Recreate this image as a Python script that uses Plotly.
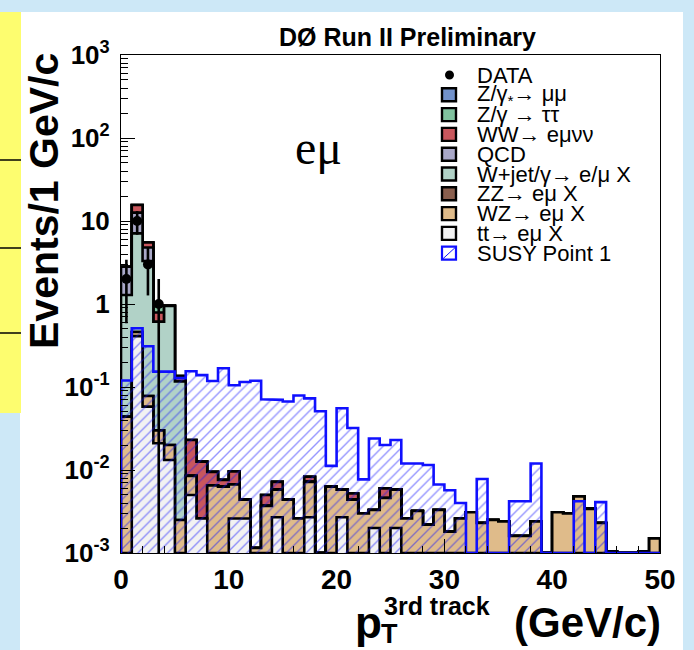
import numpy as np
import plotly.graph_objects as go

# ---------------- data (events per 1 GeV/c bin, 0-50 GeV/c) ----------------
bin_edges = list(range(0, 51))

data_counts = [2, 10, 3, 1] + [0] * 46

tt_emu = [0, 0.41, 0.058, 0.021, 0.0132, 0, 0.005, 0.0026, 0, 0,
          0.0026, 0.0026, 0, 0, 0.0027, 0, 0, 0.0027, 0, 0,
          0.0027, 0, 0, 0.002, 0, 0.002, 0, 0, 0, 0,
          0, 0, 0, 0, 0, 0, 0, 0, 0, 0,
          0, 0, 0, 0, 0, 0, 0, 0, 0, 0]
wz_emu = [0.044, 0.05, 0.02, 0.009, 0.0068, 0.0025, 0.0035, 0, 0.0065, 0.0063,
          0.0041, 0.0018, 0.00115, 0.0037, 0.0031, 0.0044, 0.0026, 0.0045, 0, 0.0063,
          0.0031, 0.0044, 0.0030, 0.0013, 0.0046, 0.0038, 0.0026, 0.0032, 0.0022, 0.0033,
          0.0018, 0.0026, 0.0031, 0.0023, 0.0025, 0.0024, 0.0016, 0.0016, 0.0024, 0,
          0.0031, 0.0030, 0.0048, 0.0034, 0.0023, 0.00105, 0, 0, 0.00105, 0.0015]
zz_emu = [0] * 50
wjet = [1.24, 6.64, 3.22, 0.58, 0.93, 0.114] + [0] * 44
qcd = [1.53, 5.5, 1.5] + [0] * 47
ww = [0, 3.0, 0.7, 0.18, 0, 0.019, 0.0145, 0.010, 0.003, 0.0013,
      0.0029, 0, 0, 0.0013, 0.0014, 0, 0, 0.0011, 0, 0,
      0, 0.0008, 0, 0, 0.0014, 0, 0, 0, 0, 0,
      0, 0, 0, 0, 0, 0, 0, 0, 0, 0,
      0, 0, 0, 0, 0, 0, 0, 0, 0, 0]
z_tautau = [0, 0, 0, 0.16] + [0] * 46
z_mumu = [0] * 50

susy = [0.12, 0.51, 0.31, 0.153, 0.153, 0.128, 0.155, 0.139, 0.118, 0.168,
        0.105, 0.115, 0.119, 0.071, 0.070, 0.067, 0.079, 0.073, 0.051, 0.0112,
        0.0555, 0.032, 0.0077, 0.024, 0.020, 0.023, 0.012, 0.012, 0.0115, 0.0067,
        0.0057, 0.004, 0, 0.0078, 0, 0, 0.0042, 0.0042, 0.012, 0,
        0, 0, 0.0042, 0, 0.0041, 0, 0, 0, 0, 0]

# stack, bottom to top: (legend label, values, colour)
stack = [
    ("tt\u2192 e\u03bc X", tt_emu, "#f2f2f2"),
    ("WZ\u2192 e\u03bc X", wz_emu, "#dfbb8a"),
    ("ZZ\u2192 e\u03bc X", zz_emu, "#8a5f4e"),
    ("W+jet/\u03b3\u2192 e/\u03bc X", wjet, "#b1d2c7"),
    ("QCD", qcd, "#a9a8c8"),
    ("WW\u2192 e\u03bc\u03bd\u03bd", ww, "#c9575d"),
    ("Z/\u03b3 \u2192 \u03c4\u03c4", z_tautau, "#80c29e"),
    ("Z/\u03b3<sub>*</sub>\u2192 \u03bc\u03bc", z_mumu, "#7292cb"),
]
susy_label = "SUSY Point 1"
data_label = "DATA"

y_tickvals = [1e-3, 1e-2, 1e-1, 1, 10, 100, 1000]
y_ticktext = ["10<sup>-3</sup>", "10<sup>-2</sup>", "10<sup>-1</sup>", "1", "10",
              "10<sup>2</sup>", "10<sup>3</sup>"]
y_minor_vals = [m * 10.0 ** e for e in range(-3, 3) for m in range(2, 10)]

FLOOR = 1e-3  # bottom of the log axis


def step_polygon(vals):
    xs, ys = [bin_edges[0]], [FLOOR]
    for i, v in enumerate(vals):
        v = max(v, FLOOR)
        xs += [bin_edges[i], bin_edges[i + 1]]
        ys += [v, v]
    xs.append(bin_edges[-1])
    ys.append(FLOOR)
    return xs, ys


fig = go.Figure()

cum = np.cumsum(np.array([s[1] for s in stack], dtype=float), axis=0)
for k in range(len(stack) - 1, -1, -1):
    xs, ys = step_polygon(cum[k])
    fig.add_trace(go.Scatter(x=xs, y=ys, mode="lines", fill="toself",
                             fillcolor=stack[k][2],
                             line=dict(color="black", width=2.6),
                             hoverinfo="skip", showlegend=False))

xs, ys = step_polygon(susy)
fig.add_trace(go.Scatter(x=xs, y=ys, mode="lines", fill="toself",
                         fillcolor="rgba(0,0,0,0)",
                         fillpattern=dict(shape="/", fgcolor="rgba(20,20,255,0.9)",
                                          bgcolor="rgba(0,0,0,0)", size=7, solidity=0.2),
                         line=dict(color="#1010ff", width=2.6),
                         hoverinfo="skip", showlegend=False))

centers = [b + 0.5 for b in bin_edges[:-1]]
dx = [c for c, n in zip(centers, data_counts) if n > 0]
dy = [n for n in data_counts if n > 0]
err_up = [np.sqrt(n) for n in dy]
err_dn = [min(np.sqrt(n), n - 1e-5) for n in dy]
fig.add_trace(go.Scatter(x=dx, y=dy, mode="markers",
                         marker=dict(color="black", size=10),
                         error_y=dict(type="data", symmetric=False, array=err_up,
                                      arrayminus=err_dn, color="black",
                                      thickness=2.6, width=0),
                         hoverinfo="skip", showlegend=False))

# ---------------- layout helpers (pixel -> paper) ----------------
L, R, T, B = 121, 660, 55, 553
W, H = 694, 650


def px(x):
    return (x - L) / (R - L)


def py(y):
    return (B - y) / (B - T)


shapes = [
    dict(type="rect", xref="paper", yref="paper", x0=px(20), x1=px(683), y0=py(12), y1=py(660),
         fillcolor="white", line=dict(width=0), layer="below"),
    dict(type="rect", xref="paper", yref="paper", x0=px(-2), x1=px(21), y0=py(12), y1=py(413),
         fillcolor="#fdfd6f", line=dict(width=0), layer="below"),
]
for yy in [160, 248, 333]:
    shapes.append(dict(type="line", xref="paper", yref="paper", x0=px(0), x1=px(21),
                       y0=py(yy), y1=py(yy), line=dict(color="black", width=1.5)))

annotations = []
bold = dict(family="Liberation Sans", color="black")

annotations.append(dict(text="<b>D\u00d8 Run II Preliminary</b>", xref="paper", yref="paper",
                        x=px(407), y=py(37), xanchor="center", yanchor="middle",
                        showarrow=False, font=dict(size=25, **bold)))
annotations.append(dict(text="<b>Events/1 GeV/c</b>", xref="paper", yref="paper",
                        x=px(44), y=py(201), xanchor="center", yanchor="middle",
                        textangle=-90, showarrow=False, font=dict(size=41, **bold)))
annotations.append(dict(text="<b>p</b>", xref="paper", yref="paper",
                        x=px(353), y=py(622), xanchor="left", yanchor="middle",
                        showarrow=False, font=dict(size=44, **bold)))
annotations.append(dict(text="<b>T</b>", xref="paper", yref="paper",
                        x=px(379), y=py(634), xanchor="left", yanchor="middle",
                        showarrow=False, font=dict(size=27, **bold)))
annotations.append(dict(text="<b>3rd track</b>", xref="paper", yref="paper",
                        x=px(382), y=py(606), xanchor="left", yanchor="middle",
                        showarrow=False, font=dict(size=25, **bold)))
annotations.append(dict(text="<b>(GeV/c)</b>", xref="paper", yref="paper",
                        x=px(663), y=py(622), xanchor="right", yanchor="middle",
                        showarrow=False, font=dict(size=42, **bold)))
annotations.append(dict(text="e\u03bc", xref="paper", yref="paper",
                        x=px(318), y=py(147), xanchor="center", yanchor="middle",
                        showarrow=False,
                        font=dict(size=48, family="Liberation Serif", color="black")))

# hand-made ROOT-style legend
row0, drow = 75, 19.8
sw_x0, sw_x1 = 442, 456
text_x = 475
legend_rows = [(data_label, None)] + [(s[0], s[2]) for s in reversed(stack)] + [(susy_label, "susy")]
for i, (lab, col) in enumerate(legend_rows):
    yc = row0 + i * drow
    annotations.append(dict(text=lab, xref="paper", yref="paper", x=px(text_x), y=py(yc),
                            xanchor="left", yanchor="middle", showarrow=False,
                            font=dict(size=22, family="Liberation Sans", color="black")))
    if col is None:
        shapes.append(dict(type="circle", xref="paper", yref="paper",
                           x0=px(445), x1=px(454), y0=py(yc + 4.5), y1=py(yc - 4.5),
                           fillcolor="black", line=dict(width=0)))
    elif col == "susy":
        shapes.append(dict(type="rect", xref="paper", yref="paper",
                           x0=px(sw_x0), x1=px(sw_x1), y0=py(yc + 6.5), y1=py(yc - 6.5),
                           fillcolor="white", line=dict(color="#1010ff", width=2.2)))
        shapes.append(dict(type="line", xref="paper", yref="paper",
                           x0=px(sw_x0 + 1), x1=px(sw_x1 - 1), y0=py(yc + 5.5), y1=py(yc - 5.5),
                           line=dict(color="#1010ff", width=1)))
    else:
        shapes.append(dict(type="rect", xref="paper", yref="paper",
                           x0=px(sw_x0), x1=px(sw_x1), y0=py(yc + 6.5), y1=py(yc - 6.5),
                           fillcolor=col, line=dict(color="black", width=2.4)))

fig.update_layout(
    width=W, height=H,
    margin=dict(l=L, r=W - R, t=T, b=H - B, pad=0),
    paper_bgcolor="#cde8f7",
    plot_bgcolor="white",
    shapes=shapes,
    annotations=annotations,
    showlegend=False,
)
fig.update_xaxes(range=[0, 50], dtick=10, tick0=0, ticks="inside", ticklen=14, tickwidth=1,
                 tickcolor="black", showgrid=False, zeroline=False,
                 showline=True, linecolor="black", linewidth=1.2, mirror=True,
                 minor=dict(dtick=2, ticks="inside", ticklen=7, tickcolor="black", showgrid=False),
                 tickfont=dict(size=28, family="Liberation Sans", color="black", weight="bold"),
                 ticklabelstandoff=1)
fig.update_yaxes(type="log", range=[-3, 3], tickmode="array", tickvals=y_tickvals,
                 ticktext=y_ticktext, ticks="inside", ticklen=14, tickwidth=1,
                 tickcolor="black", showgrid=False, zeroline=False,
                 showline=True, linecolor="black", linewidth=1.2, mirror=True,
                 minor=dict(tickmode="array", tickvals=y_minor_vals, ticks="inside", ticklen=7,
                            tickcolor="black", showgrid=False),
                 tickfont=dict(size=26, family="Liberation Sans", color="black", weight="bold"),
                 ticklabelstandoff=5)

fig.write_html("out.html")
